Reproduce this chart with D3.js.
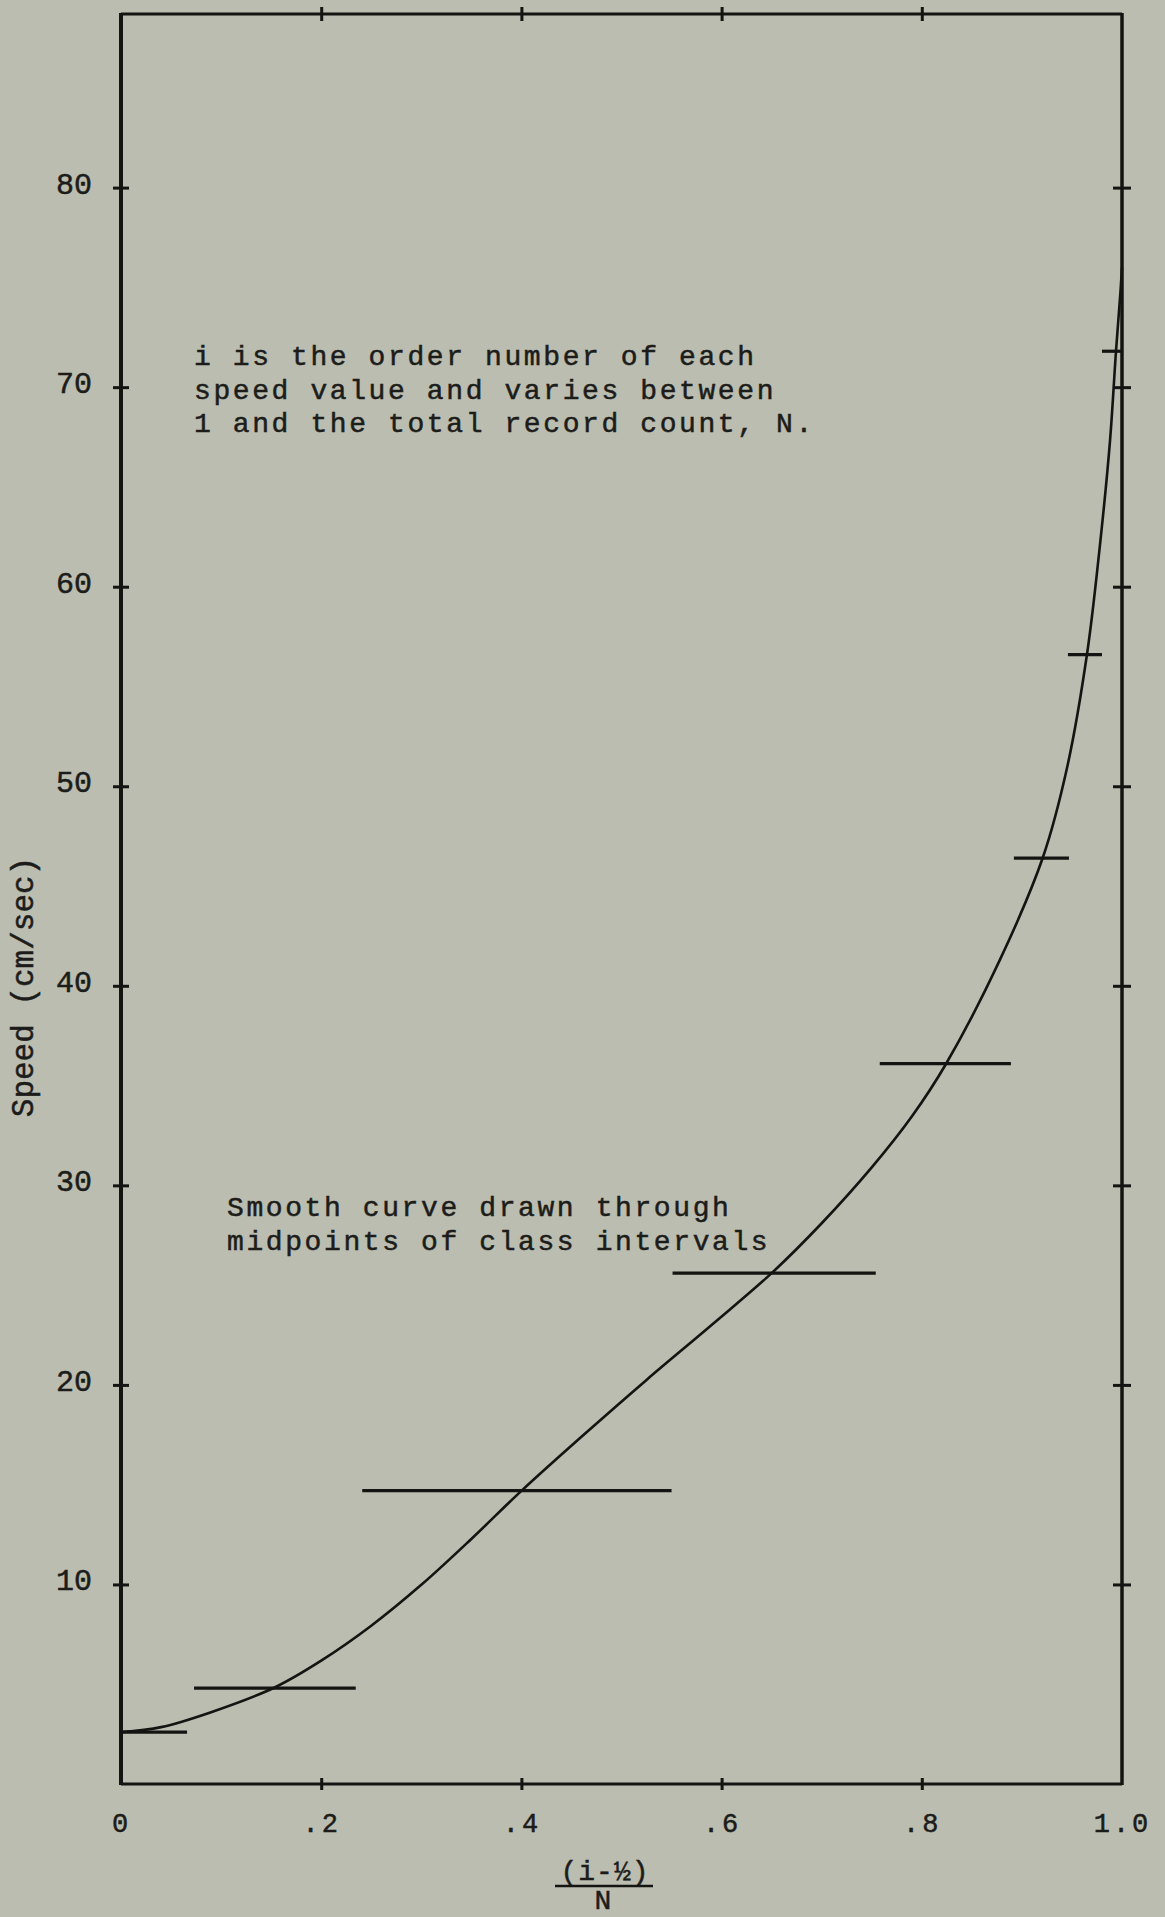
<!DOCTYPE html>
<html>
<head>
<meta charset="utf-8">
<script src="https://cdn.jsdelivr.net/npm/d3@7"></script>
<style>
	body { margin: 0; background: #babdaf; }
	svg { display: block; }
	text { font-family: "Liberation Mono", "DejaVu Sans Mono", monospace; fill: #1c1c1a; stroke: #1c1c1a; stroke-width: 0.5px; }
</style>
</head>
<body>
<div id="chart"></div>
<script>
// class intervals: speed of each class and the (i-1/2)/N span it covers
const classSpeed = [2.6, 4.8, 14.7, 25.6, 36.1, 46.4, 56.6, 71.8];
const classFrom = [0, 0.073, 0.241, 0.551, 0.758, 0.892, 0.946, 0.980];
const classTo = [0.066, 0.2345, 0.550, 0.754, 0.889, 0.947, 0.980, 1.0];

// smooth curve drawn through the midpoints
const curveP = [0, 0.04, 0.09, 0.154, 0.20, 0.25, 0.30, 0.35, 0.40, 0.46, 0.525, 0.59, 0.65, 0.70, 0.75, 0.79, 0.824, 0.878, 0.921, 0.945, 0.965, 0.978, 0.988, 0.994, 0.9985, 1.0];
const curveSpeed = [2.6, 2.85, 3.6, 4.85, 6.18, 7.93, 9.98, 12.28, 14.69, 17.4, 20.25, 23.0, 25.6, 28.1, 30.9, 33.45, 36.07, 41.3, 46.44, 50.9, 56.6, 62.1, 67.3, 71.8, 74.8, 76];

const yTicks = [10, 20, 30, 40, 50, 60, 70, 80];
const xTicks = [0, 0.2, 0.4, 0.6, 0.8, 1.0];
const xTickLabels = ["0", ".2", ".4", ".6", ".8", "1.0"];
const yMax = 88.7;

const note1 = ["i is the order number of each", "speed value and varies between", "1 and the total record count, N."];
const note2 = ["Smooth curve drawn through", "midpoints of class intervals"];

let width = 1165;
let height = 1917;
let margin = { top: 14, right: 43, bottom: 133, left: 121 };

let xScale = d3.scaleLinear()
	.domain([0, 1])
	.range([margin.left, width - margin.right]);

let yScale = d3.scaleLinear()
	.domain([0, yMax])
	.range([height - margin.bottom, margin.top]);

let svg = d3.select('#chart')
	.append('svg')
	.attr('width', width)
	.attr('height', height);

let x0 = xScale(0), x1 = xScale(1), y0 = yScale(0), y1 = yScale(yMax);
let ink = '#141412';

// frame
svg.append('line').attr('x1', x0).attr('x2', x0).attr('y1', y1 - 1).attr('y2', y0 + 1)
	.attr('stroke', ink).attr('stroke-width', 4);
svg.append('line').attr('x1', x1).attr('x2', x1).attr('y1', y1 - 1).attr('y2', y0 + 1)
	.attr('stroke', ink).attr('stroke-width', 3.5);
svg.append('line').attr('x1', x0).attr('x2', x1).attr('y1', y1).attr('y2', y1)
	.attr('stroke', ink).attr('stroke-width', 3);
svg.append('line').attr('x1', x0).attr('x2', x1).attr('y1', y0).attr('y2', y0)
	.attr('stroke', ink).attr('stroke-width', 3);

// crossing tick marks on all four sides
let innerX = xTicks.filter(d => d > 0 && d < 1);
function ticks(axis, tx, ty, size) {
	svg.append('g')
		.attr('transform', `translate(${tx},${ty})`)
		.call(axis.tickSize(size).tickFormat(''))
		.call(g => g.select('.domain').remove())
		.selectAll('line')
		.attr('stroke', ink)
		.attr('stroke-width', 3);
}
ticks(d3.axisLeft(yScale).tickValues(yTicks), x0, 0, 8);
ticks(d3.axisRight(yScale).tickValues(yTicks), x0, 0, 8);
ticks(d3.axisLeft(yScale).tickValues(yTicks), x1, 0, 9);
ticks(d3.axisRight(yScale).tickValues(yTicks), x1, 0, 9);
ticks(d3.axisTop(xScale).tickValues(innerX), 0, y1, 7);
ticks(d3.axisBottom(xScale).tickValues(innerX), 0, y1, 7);
ticks(d3.axisTop(xScale).tickValues(innerX), 0, y0, 6);
ticks(d3.axisBottom(xScale).tickValues(innerX), 0, y0, 6);

// tick labels
svg.append('g')
	.attr('transform', `translate(${x0},0)`)
	.call(d3.axisLeft(yScale).tickValues(yTicks).tickSize(0).tickPadding(29))
	.call(g => g.select('.domain').remove())
	.selectAll('text')
	.attr('dy', '0.18em')
	.style('font-family', '"Liberation Mono", monospace')
	.style('font-size', '30px')
	.attr('fill', '#1c1c1a');

svg.append('g')
	.attr('transform', `translate(0,${y0})`)
	.call(d3.axisBottom(xScale).tickValues(xTicks).tickSize(0).tickPadding(29)
		.tickFormat((d, i) => xTickLabels[i]))
	.call(g => g.select('.domain').remove())
	.selectAll('text')
	.style('font-family', '"Liberation Mono", monospace')
	.style('font-size', '27px')
	.style('letter-spacing', '3px')
	.attr('fill', '#1c1c1a');

// axis titles
svg.append('text')
	.attr('transform', 'translate(33,987) rotate(-90)')
	.style('text-anchor', 'middle')
	.style('font-size', '31px')
	.text('Speed (cm/sec)');

svg.append('text')
	.attr('x', 605)
	.attr('y', 1880)
	.style('text-anchor', 'middle')
	.style('font-size', '28px')
	.style('letter-spacing', '1px')
	.text('(i-½)');

svg.append('line')
	.attr('x1', 555).attr('x2', 653)
	.attr('y1', 1886).attr('y2', 1886)
	.attr('stroke', ink).attr('stroke-width', 2.5);

svg.append('text')
	.attr('x', 603)
	.attr('y', 1909)
	.style('text-anchor', 'middle')
	.style('font-size', '28px')
	.text('N');

// class interval bars
svg.selectAll('.cls')
	.data(classSpeed)
	.enter()
	.append('line')
	.attr('class', 'cls')
	.attr('x1', (d, i) => xScale(classFrom[i]))
	.attr('x2', (d, i) => xScale(classTo[i]))
	.attr('y1', d => yScale(d))
	.attr('y2', d => yScale(d))
	.attr('stroke', ink)
	.attr('stroke-width', 3.2);

// smooth curve
let pts = curveP.map((p, i) => [p, curveSpeed[i]]);
svg.append('path')
	.datum(pts)
	.attr('fill', 'none')
	.attr('stroke', ink)
	.attr('stroke-width', 2.6)
	.attr('d', d3.line()
		.x(d => xScale(d[0]))
		.y(d => yScale(d[1]))
		.curve(d3.curveCatmullRom.alpha(0.5)));

// notes
function note(lines, x, y) {
	svg.append('g')
		.selectAll('text')
		.data(lines)
		.enter()
		.append('text')
		.attr('x', x)
		.attr('y', (d, i) => y + i * 33.5)
		.style('font-size', '28px')
		.style('letter-spacing', '2.6px')
		.text(d => d);
}
note(note1, 194, 365);
note(note2, 227, 1216);
</script>
</body>
</html>
